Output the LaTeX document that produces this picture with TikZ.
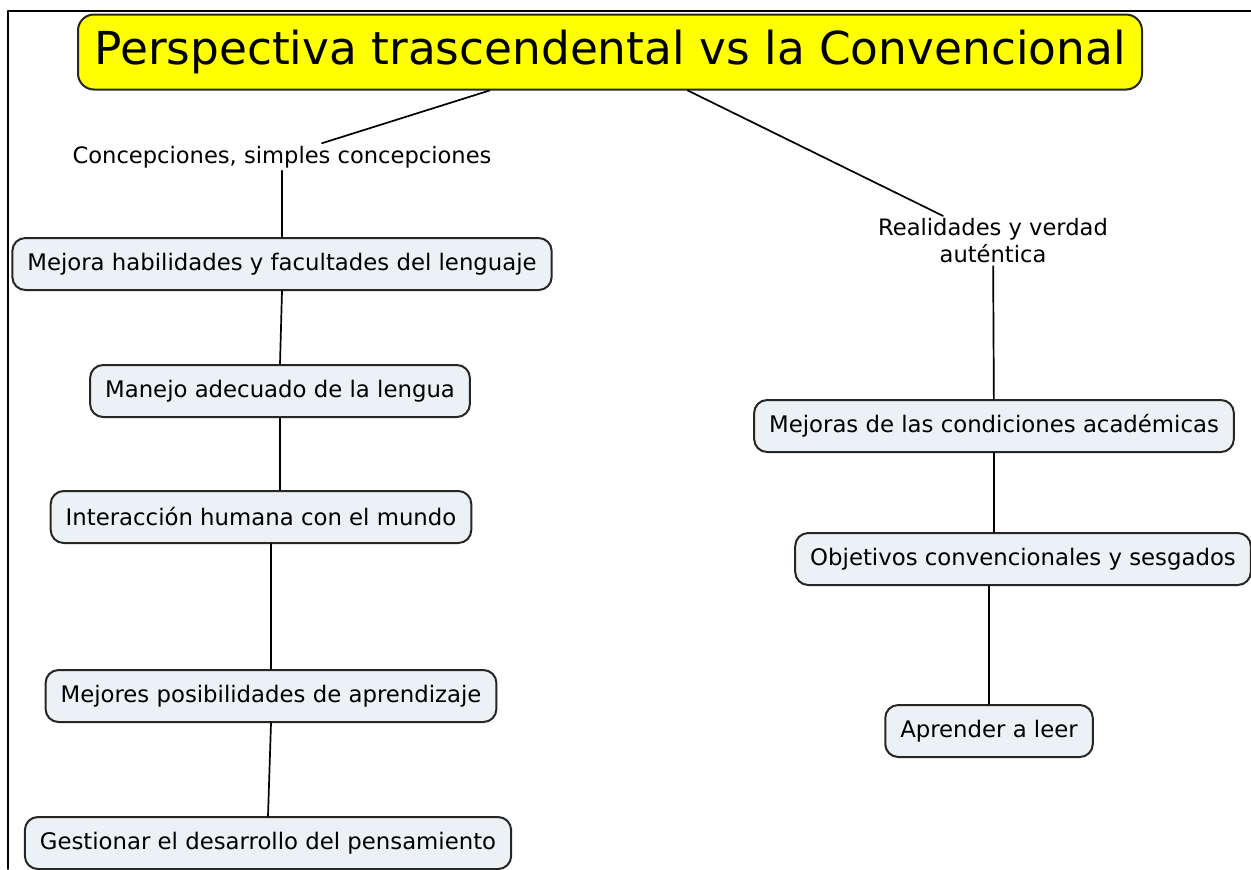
\documentclass[tikz,border=0pt]{standalone}
\usepackage{fontspec}
\setmainfont{DejaVu Sans}
\usetikzlibrary{calc}
\definecolor{boxfill}{HTML}{EBF1F4}
\definecolor{titlefill}{HTML}{FFFF00}
\tikzstyle{every path}=[line width=0.85pt,line cap=round,line join=round]
\tikzstyle{concept}=[draw=black!85, line width=1pt, fill=boxfill, rounded corners=6.5pt, minimum height=26pt, inner xsep=7.5pt, font=\fontsize{11.4}{13}\selectfont]
\tikzstyle{linkword}=[align=center, inner sep=1pt, font=\fontsize{11.3}{13.5}\selectfont]

\begin{document}
\begin{tikzpicture}[x=0.5pt,y=-0.5pt]
\useasboundingbox (0,0) rectangle (1251,869);
% frame
\draw (8,869) -- (8,11) -- (1251,11);

\node [concept, fill=titlefill, rounded corners=8pt, minimum height=37.5pt, minimum width=532pt, font=\fontsize{22.7}{26}\selectfont] (title) at (610,52) {Perspectiva trascendental vs la Convencional};

% left branch
\node [linkword] (con) at (282,157) {Concepciones, simples concepciones};
\node [concept] (b1) at (282,264) {Mejora habilidades y facultades del lenguaje};
\node [concept] (b2) at (280,391) {Manejo adecuado de la lengua};
\node [concept] (b3) at (261,517) {Interacción humana con el mundo};
\node [concept] (b4) at (271,696) {Mejores posibilidades de aprendizaje};
\node [concept] (b5) at (268,843) {Gestionar el desarrollo del pensamiento};

% right branch
\node [linkword] (real) at (993,241) {Realidades y verdad\\auténtica};
\node [concept] (rb1) at (994,426) {Mejoras de las condiciones académicas};
\node [concept] (rb2) at (1023,559) {Objetivos convencionales y sesgados};
\node [concept] (rb3) at (989,731) {Aprender a leer};

\draw ($(title.south west)!0.387!(title.south east)$) -- ([xshift=20pt]con.north);
\draw (con) -- (b1);
\draw (b1.south) -- (b2.north);
\draw (b2.south) -- (b2.south |- b3.north);
\draw (b4.north |- b3.south) -- (b4.north);
\draw (b4.south) -- (b5.north);

\draw ($(title.south west)!0.573!(title.south east)$) -- ([xshift=-25pt]real.north);
\draw (real) -- (rb1);
\draw (rb1.south) -- (rb1.south |- rb2.north);
\draw (rb3.north |- rb2.south) -- (rb3.north);
\end{tikzpicture}
\end{document}
